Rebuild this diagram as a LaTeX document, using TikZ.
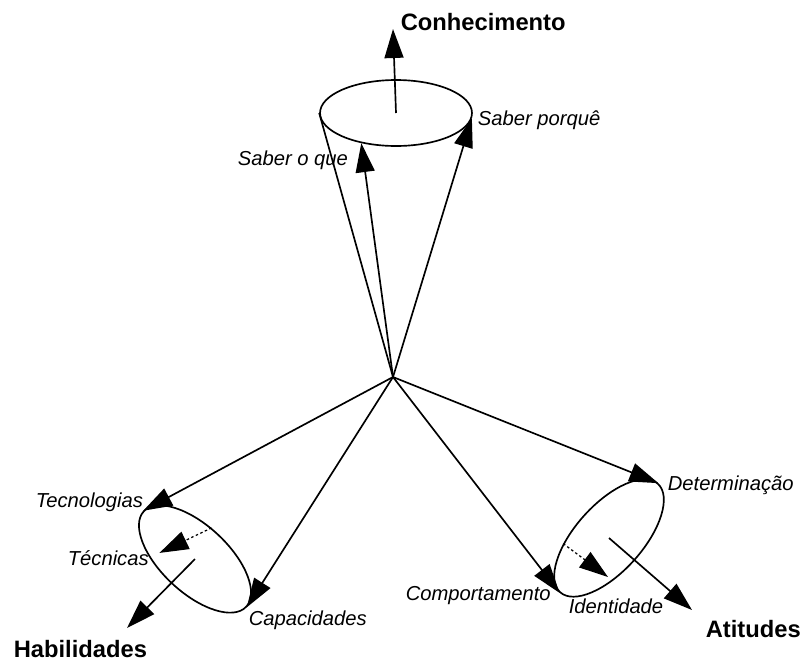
\documentclass[tikz,border=0pt]{standalone}
\usepackage{fontspec}
\setmainfont{Liberation Sans}
\usetikzlibrary{shapes.geometric, arrows.meta}

\begin{document}
\begin{tikzpicture}[x=0.02cm, y=-0.02cm, line width=0.95pt,
    tip/.style={-{Triangle[length=0.58cm, width=0.38cm]}},
    hidden/.style={tip, dash pattern=on 0.05cm off 0.05cm, line width=0.7pt},
    cone/.style={draw, ellipse, inner sep=0pt, minimum width=2.9cm, minimum height=1.34cm},
    lbl/.style={font=\fontsize{11.5}{13}\selectfont\itshape, inner sep=0pt, anchor=base west},
    axis/.style={font=\fontsize{13.5}{16}\selectfont\bfseries, inner sep=0pt, anchor=base west}]
  \useasboundingbox (0,0) rectangle (800,660);

  \coordinate (o) at (393,377);

  % the three cones
  \node[cone, minimum width=3.04cm, minimum height=1.32cm] (con) at (396,113) {};
  \node[cone, minimum width=2.8cm, rotate=-43] (hab) at (195,559) {};
  \node[cone, minimum width=2.92cm, rotate=48] (att) at (609,538) {};

  % labels
  \node[axis] (conh) at (400,30) {Conhecimento};
  \node[lbl] (porque) at (477,125) {Saber porquê};
  \node[lbl] (oque) at (237,165) {Saber o que};
  \node[lbl] (tecno) at (35,507) {Tecnologias};
  \node[lbl] (tecn) at (67,565) {Técnicas};
  \node[lbl] (capac) at (248,625) {Capacidades};
  \node[axis] (habl) at (13,657) {Habilidades};
  \node[lbl] (determ) at (667,490) {Determinação};
  \node[lbl] (comport) at (405,600) {Comportamento};
  \node[lbl] (ident) at (568,613) {Identidade};
  \node[axis] (atit) at (705,637) {Atitudes};

  \coordinate (conup) at (393,29);
  \coordinate (habdown) at (127,628);
  \coordinate (attdown) at (692,610);
  \coordinate (attin) at (608,577);

  % Conhecimento
  \draw (o) -- (con.west);
  \draw[tip] (o) -- (con.221);
  \draw[tip] (o) -- (con.-4);
  \draw[tip] (con.center) -- (conup);
  % Habilidades
  \draw[tip] (o) -- (hab.west);
  \draw[tip] (o) -- (hab.east);
  \draw[hidden, shorten >=0.22cm] (hab.105) -- (tecn.east);
  \draw[tip] (hab.center) -- (habdown);
  % Atitudes
  \draw[tip] (o) -- (att.east);
  \draw[tip] (o) -- (att.west);
  \draw[hidden] (att.139) -- (attin);
  \draw[tip] (att.center) -- (attdown);
\end{tikzpicture}
\end{document}
